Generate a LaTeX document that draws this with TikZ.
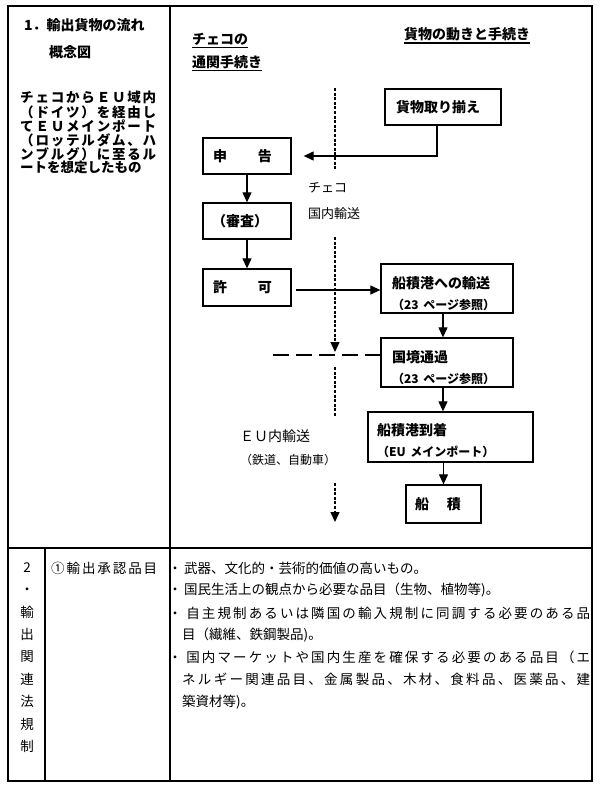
\documentclass[tikz,border=0pt]{standalone}
\usepackage{fontspec}
\setmainfont{Noto Sans CJK JP}
\usetikzlibrary{arrows.meta}
\newcommand\spr[1]{\sprA#1\relax}
\def\sprA#1{#1\sprB}
\def\sprB#1{\ifx\relax#1\else\hfil#1\expandafter\sprB\fi}
\newcommand\spreadto[2]{\makebox[#1][s]{\spr{#2}}}
\newcommand\bul{\makebox[18pt][c]{・}}
\tikzset{
  tbl/.style={line width=1.4pt},
  box/.style={draw, line width=1.3pt, inner ysep=0pt, align=left,
    font=\bfseries\fontsize{14}{21}\selectfont},
  arr/.style={line width=1.2pt, -{Triangle[length=10pt,width=9pt]}},
  vdash/.style={line width=1.3pt, dash pattern=on 3pt off 1.6pt},
  hdash/.style={line width=2.2pt, dash pattern=on 16pt off 7pt},
  txt/.style={inner sep=0pt, anchor=west},
  head/.style={txt, font=\bfseries\fontsize{14}{14}\selectfont},
  para/.style={txt, font=\bfseries\fontsize{13.5}{14}\selectfont},
  body/.style={txt, font=\fontsize{13.5}{14}\selectfont},
  lab/.style={txt, font=\fontsize{13}{13}\selectfont},
  uline/.style={line width=1.2pt}
}
\begin{document}
\begin{tikzpicture}[x=1pt,y=-1pt]
\useasboundingbox (0,0) rectangle (600,788);
\fill[white] (0,0) rectangle (600,788);
% table
\draw[tbl] (8,6) rectangle (592,781);
\draw[tbl] (8,548) -- (592,548);
\draw[tbl] (170,6) -- (170,781);
\draw[tbl] (45,548) -- (45,781);
% left column, section 1
\node[head] (t1) at (24,25) {1．輸出貨物の流れ};
\node[head] (t2) at (49,52) {概念図};
\node[para] (p1) at (20,97) {\spreadto{136pt}{チェコからＥＵ域内}};
\node[para] (p2) at (20,112) {\spreadto{136pt}{（ドイツ）を経由し}};
\node[para] (p3) at (20,126) {\spreadto{136pt}{てＥＵメインポート}};
\node[para] (p4) at (20,140) {\spreadto{136pt}{（ロッテルダム、ハ}};
\node[para] (p5) at (20,154) {\spreadto{136pt}{ンブルグ）に至るル}};
\node[para] (p6) at (20,167) {ートを想定したもの};
% headers
\node[head] (h1) at (192,39) {チェコの};
\node[head] (h2) at (192,62) {通関手続き};
\node[head] (h3) at (404,34) {貨物の動きと手続き};
\draw[uline] ([yshift=-2pt]h1.south west) -- ([yshift=-2pt]h1.south east);
\draw[uline] ([yshift=-2pt]h2.south west) -- ([yshift=-2pt]h2.south east);
\draw[uline] ([yshift=-2pt]h3.south west) -- ([yshift=-2pt]h3.south east);
% boxes
\node[box, minimum height=36pt, text width=94pt, inner xsep=11pt] (kamotsu) at (443,107) {貨物取り揃え};
\node[box, minimum height=36pt, text width=68pt, inner xsep=10pt] (shinkoku) at (247,156) {申\hspace{31pt}告};
\node[box, minimum height=36pt, text width=70pt, inner xsep=9pt] (shinsa) at (247,221) {（審査）};
\node[box, minimum height=37pt, text width=68pt, inner xsep=10pt] (kyoka) at (247,287.5) {許\hspace{31pt}可};
\node[box, minimum height=49pt, text width=110pt, inner xsep=11pt] (yuso) at (447,288.5)
  {\rule{0pt}{22pt}船積港への輸送\\{\fontsize{12}{12}\selectfont （23 ページ参照）}};
\node[box, minimum height=49pt, text width=110pt, inner xsep=11pt] (kokkyo) at (447,362.5)
  {\rule{0pt}{22pt}国境通過\\{\fontsize{12}{12}\selectfont （23 ページ参照）}};
\node[box, minimum height=50pt, text width=147pt, inner xsep=9pt] (tochaku) at (450.5,437)
  {\rule{0pt}{19pt}船積港到着\\{\fontsize{12}{12}\selectfont （EU メインポート）}};
\node[box, minimum height=38pt, text width=57pt, inner xsep=9pt] (funazumi) at (443.5,504) {船\hspace{18pt}積};
% arrows
\draw[arr] ([xshift=-6pt]kamotsu.south) |- ([xshift=12pt]shinkoku.east);
\draw[arr] (shinkoku) -- (shinsa);
\draw[arr] (shinsa) -- (kyoka);
\coordinate (k1) at ([shift={(4,2.5)}]kyoka.east);
\draw[arr] (k1) -- (k1 -| yuso.west);
\draw[arr] ([xshift=-4pt]yuso.south) -- ([xshift=-4pt]yuso.south |- kokkyo.north);
\draw[arr] ([xshift=-4pt]kokkyo.south) -- ([xshift=-4pt]kokkyo.south |- tochaku.north);
\draw[arr] (funazumi.north |- tochaku.south) -- (funazumi.north);
% dashed lines
\coordinate (d1) at (335,88);
\coordinate (d2) at (335,169);
\coordinate (d3) at (335,237);
\coordinate (d4) at (335,352);
\coordinate (d5) at (335,367);
\coordinate (d6) at (335,417);
\coordinate (d7) at (335,483);
\coordinate (d8) at (335,522);
\draw[vdash] (d1) -- (d2);
\draw[vdash, -{Triangle[length=10pt,width=9pt]}] (d3) -- (d4);
\draw[vdash] (d5) -- (d6);
\draw[vdash, -{Triangle[length=10pt,width=9pt]}] (d7) -- (d8);
\coordinate (hh) at (273,355);
\draw[hdash] (hh) -- (hh -| kokkyo.west);
% route labels
\node[lab] (c1) at (308,188) {チェコ};
\node[lab] (c2) at (308,214) {国内輸送};
\node[txt, font=\fontsize{14}{14}\selectfont] (e1) at (240,436) {ＥＵ内輸送};
\node[txt, font=\fontsize{12}{12}\selectfont] (e2) at (240,460) {（鉄道、自動車）};
% section 2
\node[inner sep=0pt, align=center, font=\fontsize{13.5}{22.4}\selectfont] (s2) at (27,657.5)
  {2\\・\\輸\\出\\関\\連\\法\\規\\制};
\node[body] (s2a) at (51,568) {\spreadto{106pt}{①輸出承認品目}};
\node[body] (l1) at (166,568) {\bul 武器、文化的・芸術的価値の高いもの。};
\node[body] (l2) at (166,590) {\bul 国民生活上の観点から必要な品目（生物、植物等)。};
\node[body] (l3) at (166,613) {\spreadto{424pt}{\bul 自主規制あるいは隣国の輸入規制に同調する必要のある品}};
\node[body] (l4) at (182,635) {目（繊維、鉄鋼製品)。};
\node[body] (l5) at (166,657) {\spreadto{424pt}{\bul 国内マーケットや国内生産を確保する必要のある品目（エ}};
\node[body] (l6) at (182,679) {\spreadto{408pt}{ネルギー関連品目、金属製品、木材、食料品、医薬品、建}};
\node[body] (l7) at (182,702) {築資材等)。};
\end{tikzpicture}
\end{document}
